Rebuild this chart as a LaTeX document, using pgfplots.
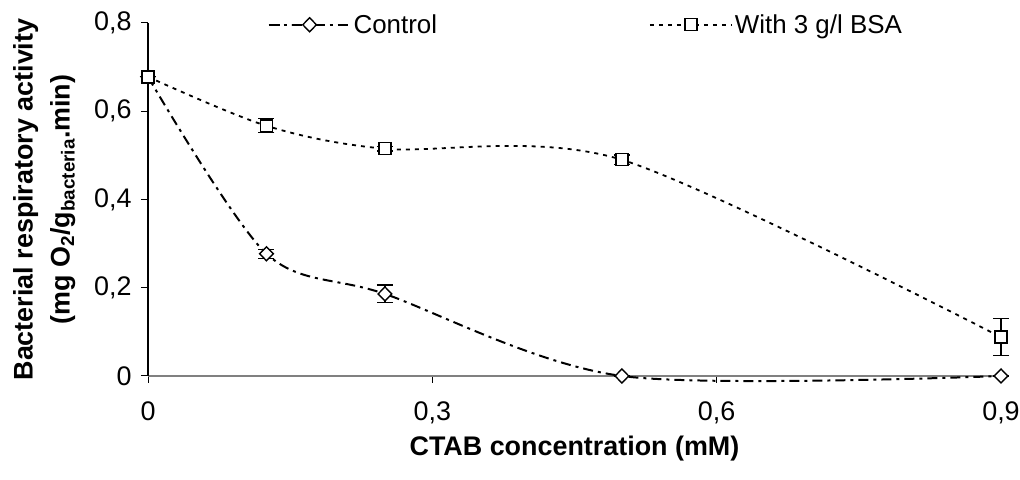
\documentclass[border=0pt]{standalone}
\usepackage{pgfplots}
\pgfplotsset{compat=1.18}
\usepackage{fontspec}
\setmainfont{Liberation Sans}

% Respiratory activity vs. CTAB concentration
\pgfplotstableread{
x     y      e
0     0.678  0
0.125 0.277  0.010
0.25  0.186  0.020
0.5   0.000  0
0.9   0.000  0
}\control
\pgfplotstableread{
x     y      e
0     0.678  0
0.125 0.567  0.016
0.25  0.515  0.005
0.5   0.490  0.011
0.9   0.088  0.042
}\bsa

\newcommand{\lbl}{\fontsize{27}{37}\selectfont}
\newcommand{\leg}{\fontsize{26}{31}\selectfont}

\begin{document}
\begin{tikzpicture}[x=1bp,y=1bp]
\useasboundingbox (-148,-104) rectangle (872,376);
\begin{axis}[
  scale only axis, width=853bp, height=353bp,
  xmin=0, xmax=0.9, ymin=0, ymax=0.8,
  axis x line*=bottom, axis y line*=left,
  x axis line style={-, draw=gray, line width=1.2pt},
  y axis line style={-, draw=black, line width=1.2pt},
  xtick={0,0.3,0.6,0.9}, ytick={0,0.2,0.4,0.6,0.8},
  tick align=outside, major tick length=7bp,
  tick style={black, line width=1pt},
  /pgf/number format/use comma,
  /pgf/number format/assume math mode=true,
  ticklabel style={font=\lbl},
  xticklabel style={yshift=-15bp},
  yticklabel style={xshift=-6bp},
  xlabel={\textbf{CTAB concentration (mM)}},
  xlabel style={font=\lbl, yshift=-5bp},
  ylabel={\textbf{Bacterial respiratory activity}\\\textbf{(mg O\textsubscript{2}/g\textsubscript{bacteria}.min)}},
  ylabel style={font=\lbl, align=center, yshift=12bp},
  clip=false,
  legend columns=2,
  legend style={draw=none, fill=none, at={(0.14,0.995)}, anchor=west,
    font=\leg, inner sep=0pt,
    /tikz/every even column/.append style={column sep=210bp}},
  legend image code/.code={\draw[mark repeat=2,mark phase=2,#1]
    plot coordinates {(0bp,0bp) (41bp,0bp) (82bp,0bp)};},
  error bars/error bar style={draw=black, solid, line width=1.2pt},
  error bars/error mark options={rotate=90, mark size=8bp, line width=1.2pt},
]
% error bars first so the white markers sit on top
\addplot[draw=none, forget plot, error bars/.cd, y dir=both, y explicit]
  table[x=x, y=y, y error=e] {\control};
\addplot[draw=none, forget plot, error bars/.cd, y dir=both, y explicit]
  table[x=x, y=y, y error=e] {\bsa};

\addplot[black, line width=2pt, smooth, tension=0.5,
  dash pattern=on 10bp off 5bp on 3bp off 5bp,
  mark=diamond*, mark size=7bp,
  mark options={solid, fill=white, line width=1.4pt, xscale=1.3}]
  table[x=x, y=y] {\control};
\addlegendentry{Control}

\addplot[black, line width=1.8pt, smooth, tension=0.5,
  dash pattern=on 4bp off 5bp,
  mark=square*, mark size=6bp,
  mark options={solid, fill=white, line width=1.4pt}]
  table[x=x, y=y] {\bsa};
\addlegendentry{With 3 g/l BSA}
\end{axis}
\end{tikzpicture}
\end{document}
